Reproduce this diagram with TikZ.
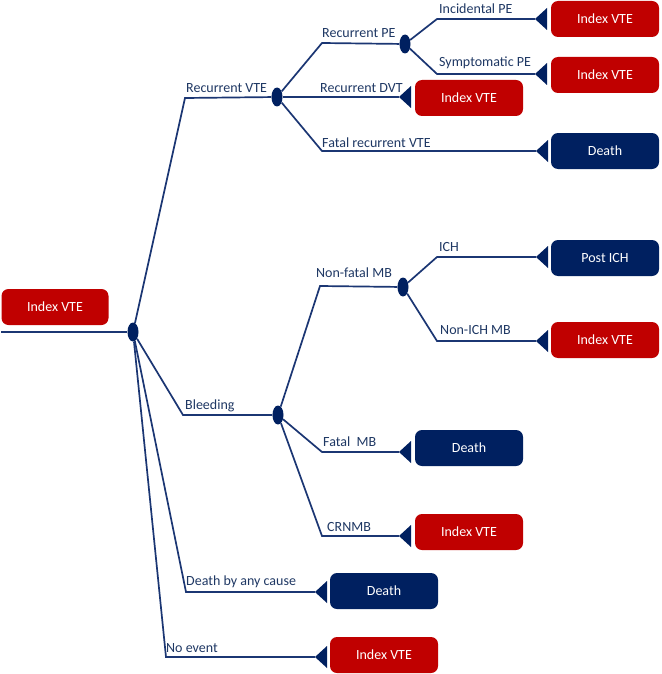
\documentclass[tikz,border=0pt]{standalone}
\usepackage{fontspec}
\setmainfont{Carlito}
\usetikzlibrary{shapes.geometric}
\definecolor{boxred}{HTML}{C00000}
\definecolor{boxnavy}{HTML}{002060}
\definecolor{linec}{HTML}{1B3673}
\definecolor{labelc}{HTML}{1F3864}
\begin{document}
\begin{tikzpicture}[x=1pt,y=-1pt,
  termbox/.style={rounded corners=7pt, minimum width=108pt, minimum height=36pt, text=white, inner sep=0pt, font=\fontsize{14}{16}\selectfont},
  redbox/.style={termbox, fill=boxred},
  navybox/.style={termbox, fill=boxnavy},
  chance/.style={ellipse, fill=boxnavy, minimum width=11pt, minimum height=19pt, inner sep=0pt},
  branch/.style={draw=linec, line width=1.7pt},
  lbl/.style={anchor=west, text=labelc, inner sep=0pt, font=\fontsize{14}{16}\selectfont}]
\useasboundingbox (0,0) rectangle (661,674);
\fill[white] (0,0) rectangle (661,674);

% root
\node[redbox, minimum width=107pt] (root) at (55,307) {Index VTE};
\coordinate (start) at (1,332);
\node[chance] (R0) at (133,332) {};

% level 1
\coordinate (bRV) at (185,98);
\node[chance] (RV) at (277,97) {};
\coordinate (bBL) at (183,415);
\node[chance] (BL) at (278,415) {};
\coordinate (bDA) at (186,592);
\coordinate (tDA) at (315,592);
\node[navybox] (xDA) at (384,591) {Death};
\coordinate (bNE) at (166,657);
\coordinate (tNE) at (315,657);
\node[redbox] (xNE) at (384,655) {Index VTE};

% recurrent VTE branch
\coordinate (bRPE) at (322,43);
\node[chance] (RPE) at (405,44) {};
\coordinate (bIPE) at (437,19);
\coordinate (tIPE) at (535,19);
\node[redbox] (xIPE) at (605,19) {Index VTE};
\coordinate (bSPE) at (437,74);
\coordinate (tSPE) at (535,74);
\node[redbox] (xSPE) at (605,75) {Index VTE};
\coordinate (tDVT) at (399,97);
\node[redbox] (xDVT) at (469,98) {Index VTE};
\coordinate (bFRV) at (322,151);
\coordinate (tFRV) at (536,151);
\node[navybox] (xFRV) at (605,151) {Death};

% bleeding branch
\coordinate (bNF) at (320,286);
\node[chance] (NF) at (403,287) {};
\coordinate (bICH) at (437,257);
\coordinate (tICH) at (536,257);
\node[navybox] (xICH) at (605,258) {Post ICH};
\coordinate (bNI) at (437,341);
\coordinate (tNI) at (536,341);
\node[redbox] (xNI) at (605,340) {Index VTE};
\coordinate (bFMB) at (322,452);
\coordinate (tFMB) at (399,452);
\node[navybox] (xFMB) at (469,448) {Death};
\coordinate (bCR) at (322,536);
\coordinate (tCR) at (399,536);
\node[redbox] (xCR) at (469,532) {Index VTE};

% connectors
\draw[branch] (start) -- (R0);
\draw[branch] (R0) -- (bRV) -- (RV);
\draw[branch] (R0) -- (bBL) -- (BL);
\draw[branch] (R0) -- (bDA) -- (tDA);
\draw[branch] (R0) -- (bNE) -- (tNE);
\draw[branch] (RV) -- (bRPE) -- (RPE);
\draw[branch] (RPE) -- (bIPE) -- (tIPE);
\draw[branch] (RPE) -- (bSPE) -- (tSPE);
\draw[branch] (RV) -- (tDVT);
\draw[branch] (RV) -- (bFRV) -- (tFRV);
\draw[branch] (BL) -- (bNF) -- (NF);
\draw[branch] (NF) -- (bICH) -- (tICH);
\draw[branch] (NF) -- (bNI) -- (tNI);
\draw[branch] (BL) -- (bFMB) -- (tFMB);
\draw[branch] (BL) -- (bCR) -- (tCR);

% terminal triangles
\foreach \t in {tDA,tNE,tIPE,tSPE,tDVT,tFRV,tICH,tNI,tFMB,tCR}
  \fill[boxnavy] (\t) -- ++(12,-11) -- ++(0,22) -- cycle;

% labels
\node[lbl] (lRV) at (186,88) {Recurrent VTE};
\node[lbl] (lBL) at (185,406) {Bleeding};
\node[lbl] (lDA) at (186,582) {Death by any cause};
\node[lbl] (lNE) at (166,648) {No event};
\node[lbl] (lRPE) at (322,33) {Recurrent PE};
\node[lbl] (lDVT) at (320,88) {Recurrent DVT};
\node[lbl] (lFRV) at (322,143) {Fatal recurrent VTE};
\node[lbl] (lIPE) at (439,9) {Incidental PE};
\node[lbl] (lSPE) at (439,63) {Symptomatic PE};
\node[lbl] (lNF) at (316,273) {Non-fatal MB};
\node[lbl] (lICH) at (439,247) {ICH};
\node[lbl] (lNI) at (440,330) {Non-ICH MB};
\node[lbl] (lFMB) at (323,442) {Fatal\ \ MB};
\node[lbl] (lCR) at (327,527) {CRNMB};
\end{tikzpicture}
\end{document}
